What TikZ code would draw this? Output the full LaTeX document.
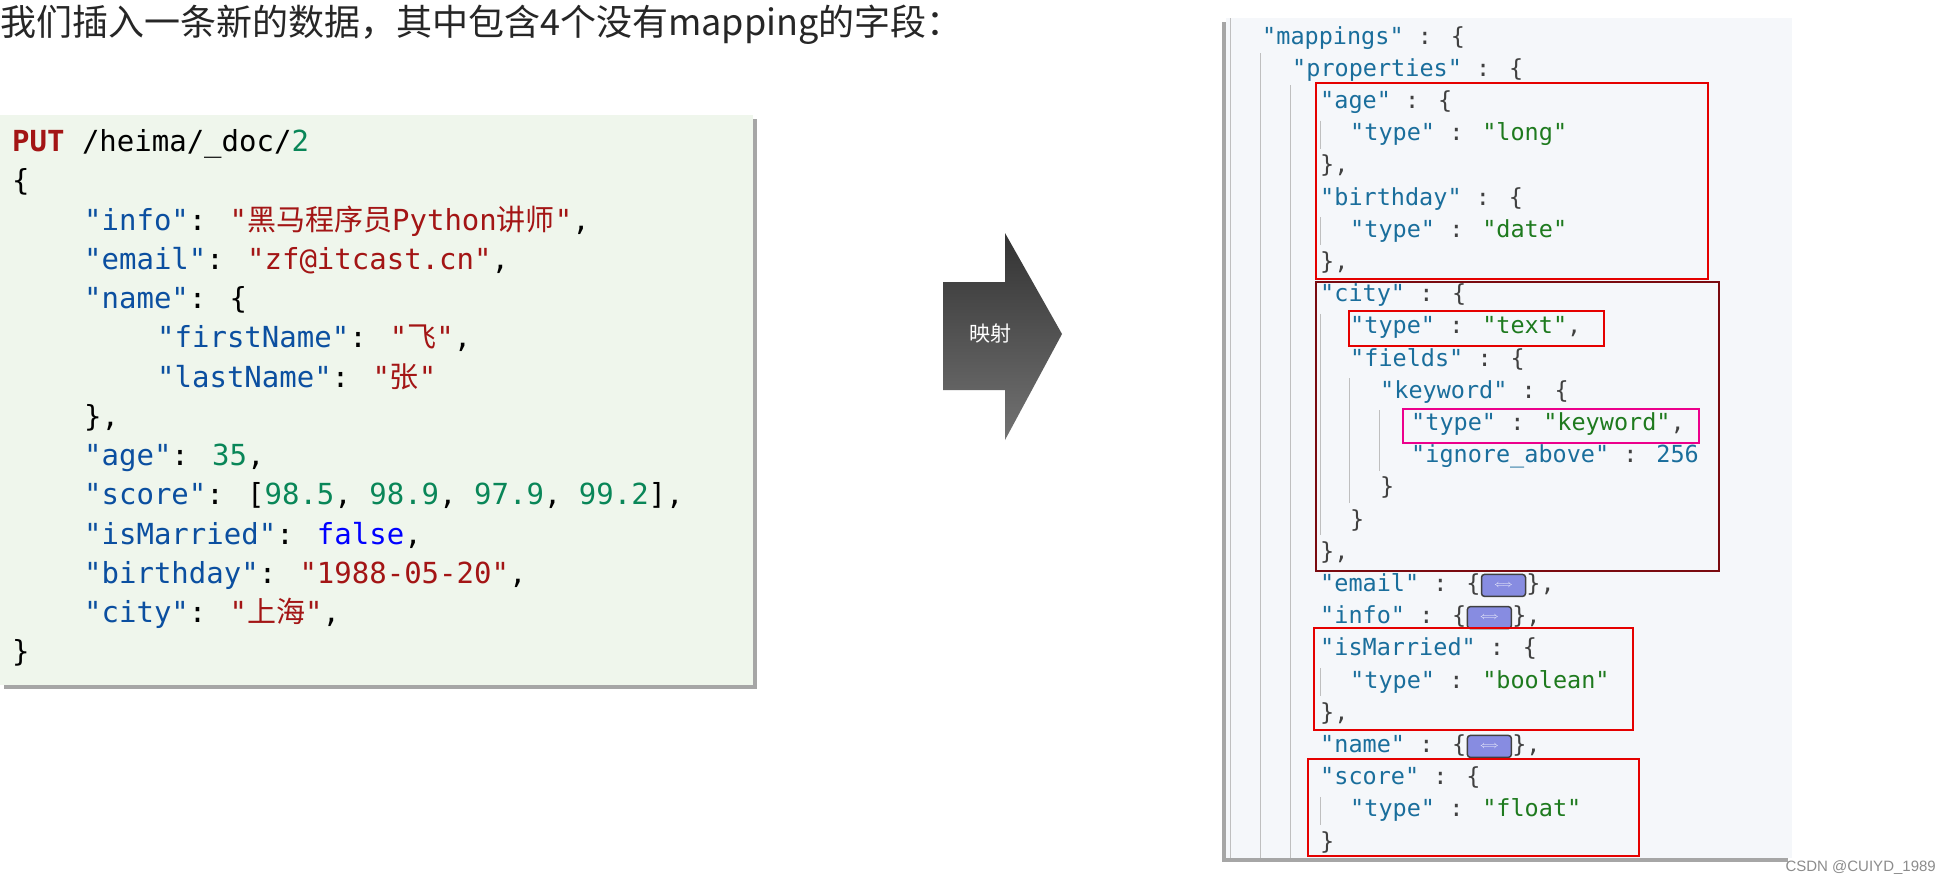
\documentclass[tikz,border=0pt]{standalone}
\usepackage{fontspec}
\setmainfont{DejaVu Sans Mono}
\newfontfamily\cjk{Noto Sans CJK SC}
\newfontfamily\mono{DejaVu Sans Mono}
\newfontfamily\sans{Liberation Sans}
\definecolor{lkey}{HTML}{0B4FA0}
\definecolor{lstr}{HTML}{A31515}
\definecolor{lnum}{HTML}{098658}
\definecolor{rkey}{HTML}{1A6E9C}
\definecolor{rval}{HTML}{1E7A1E}
\definecolor{lbg}{HTML}{EFF6EC}
\definecolor{rbg}{HTML}{F5F7FA}
\definecolor{darkred}{HTML}{7A0A10}
\newcommand\jk[1]{\textcolor{lkey}{#1}}
\newcommand\js[1]{\textcolor{lstr}{#1}}
\newcommand\jn[1]{\textcolor{lnum}{#1}}
\newcommand\rk[1]{\textcolor{rkey}{#1}}
\newcommand\rv[1]{\textcolor{rval}{#1}}
\begin{document}
\begin{tikzpicture}[x=1pt,y=-1pt,
  lc/.style={anchor=west,inner sep=0pt,font=\mono\fontsize{29}{29}\selectfont,text height=21pt,text depth=6pt},
  rc/.style={anchor=west,inner sep=0pt,font=\mono\fontsize{23.5}{23.5}\selectfont,text height=17pt,text depth=5pt,text=black!75},
  icon/.style={draw=black!75,fill={rgb,255:red,135;green,140;blue,225},rounded corners=3pt,minimum width=44pt,minimum height=22pt,inner sep=0pt,line width=1.5pt,anchor=west},
  guide/.style={draw=black!25,line width=1pt},
  redbox/.style={draw=red!90!black,line width=2.2pt}]
\useasboundingbox (0,0) rectangle (1941,884);
\fill[white] (0,0) rectangle (1941,884);
% title
\node[anchor=west,inner sep=0pt,font=\cjk\fontsize{36}{36}\selectfont,text=black!85] (title) at (0,25) {我们插入一条新的数据，其中包含4个没有mapping的字段：};
% left code box
\fill[black!35] (4,119) rectangle (757,689);
\fill[lbg] (0,115) rectangle (753,685);
\node[lc] (L0) at (12,144) {\textbf{\js{PUT}} /heima/\_doc/\jn{2}};
\node[lc] (L1) at (12,183) {\{};
\node[lc] (L2) at (84,223) {\jk{"info"}: \js{"{\cjk 黑马程序员}Python{\cjk 讲师}"},};
\node[lc] (L3) at (84,262) {\jk{"email"}: \js{"zf@itcast.cn"},};
\node[lc] (L4) at (84,301) {\jk{"name"}: \{};
\node[lc] (L5) at (157,340) {\jk{"firstName"}: \js{"{\cjk 飞}"},};
\node[lc] (L6) at (157,380) {\jk{"lastName"}: \js{"{\cjk 张}"}};
\node[lc] (L7) at (84,419) {\},};
\node[lc] (L8) at (84,458) {\jk{"age"}: \jn{35},};
\node[lc] (L9) at (84,497) {\jk{"score"}: [\jn{98.5}, \jn{98.9}, \jn{97.9}, \jn{99.2}],};
\node[lc] (L10) at (84,537) {\jk{"isMarried"}: \textcolor{blue}{false},};
\node[lc] (L11) at (84,576) {\jk{"birthday"}: \js{"1988-05-20"},};
\node[lc] (L12) at (84,615) {\jk{"city"}: \js{"{\cjk 上海}"},};
\node[lc] (L13) at (12,654) {\}};
% arrow
\shade[top color=black!80,bottom color=black!55] (943,282) -- (1005,282) -- (1005,233) -- (1062,334) -- (1005,440) -- (1005,390) -- (943,390) -- cycle;
\node[inner sep=0pt,text=white,font=\cjk\fontsize{21}{21}\selectfont] (arrowlabel) at (990,334) {映射};
% right panel
\fill[black!35] (1222,22) rectangle (1788,862);
\fill[rbg] (1226,18) rectangle (1792,858);
\draw[guide] (1230,18) -- (1230,858);
\draw[guide] (1260,53) -- (1260,858);
\draw[guide] (1290,85) -- (1290,858);
\foreach \a/\b in {4/4,7/7,10/16,21/21,25/25}
  \draw[guide] (1320,{38+(\a-1)*32.2-14}) -- (1320,{38+(\b-1)*32.2+14});
\draw[guide] (1349,{38+11*32.2-14}) -- (1349,{38+14*32.2+14});
\draw[guide] (1379,{38+12*32.2-14}) -- (1379,{38+13*32.2+14});
\node[rc] (R1) at (1262,38.0) {\rk{"mappings"} : \{};
\node[rc] (R2) at (1292,70.2) {\rk{"properties"} : \{};
\node[rc] (R3) at (1320,102.4) {\rk{"age"} : \{};
\node[rc] (R4) at (1350,134.6) {\rk{"type"} : \rv{"long"}};
\node[rc] (R5) at (1320,166.8) {\},};
\node[rc] (R6) at (1320,199.0) {\rk{"birthday"} : \{};
\node[rc] (R7) at (1350,231.2) {\rk{"type"} : \rv{"date"}};
\node[rc] (R8) at (1320,263.4) {\},};
\node[rc] (R9) at (1320,295.6) {\rk{"city"} : \{};
\node[rc] (R10) at (1350,327.8) {\rk{"type"} : \rv{"text"},};
\node[rc] (R11) at (1350,360.0) {\rk{"fields"} : \{};
\node[rc] (R12) at (1380,392.2) {\rk{"keyword"} : \{};
\node[rc] (R13) at (1411,424.4) {\rk{"type"} : \rv{"keyword"},};
\node[rc] (R14) at (1411,456.6) {\rk{"ignore\_above"} : \rk{256}};
\node[rc] (R15) at (1380,488.8) {\}};
\node[rc] (R16) at (1350,521.0) {\}};
\node[rc] (R17) at (1320,553.2) {\},};
\node[rc] (R18) at (1320,585.4) {\rk{"email"} : \{};
\node[icon] (I18) at (R18.east) {\color{white}$\Longleftrightarrow$};
\node[rc] (R18b) at (I18.east) {\},};
\node[rc] (R19) at (1320,617.6) {\rk{"info"} : \{};
\node[icon] (I19) at (R19.east) {\color{white}$\Longleftrightarrow$};
\node[rc] (R19b) at (I19.east) {\},};
\node[rc] (R20) at (1320,649.8) {\rk{"isMarried"} : \{};
\node[rc] (R21) at (1350,682.0) {\rk{"type"} : \rv{"boolean"}};
\node[rc] (R22) at (1320,714.2) {\},};
\node[rc] (R23) at (1320,746.4) {\rk{"name"} : \{};
\node[icon] (I23) at (R23.east) {\color{white}$\Longleftrightarrow$};
\node[rc] (R23b) at (I23.east) {\},};
\node[rc] (R24) at (1320,778.6) {\rk{"score"} : \{};
\node[rc] (R25) at (1350,810.8) {\rk{"type"} : \rv{"float"}};
\node[rc] (R26) at (1320,843.0) {\}};
% highlight boxes
\draw[redbox] (1316,83) rectangle (1708,279);
\draw[draw=darkred,line width=2.2pt] (1316,282) rectangle (1719,571);
\draw[redbox] (1349,311) rectangle (1604,346);
\draw[draw=magenta,line width=2.2pt] (1403,409) rectangle (1699,443);
\draw[redbox] (1314,628) rectangle (1633,730);
\draw[redbox] (1308,759) rectangle (1639,856);
% watermark
\node[anchor=east,inner sep=0pt,text=black!45,font=\sans\fontsize{15}{15}\selectfont] (wm) at (1936,868) {CSDN @CUIYD\_1989};
\end{tikzpicture}
\end{document}
